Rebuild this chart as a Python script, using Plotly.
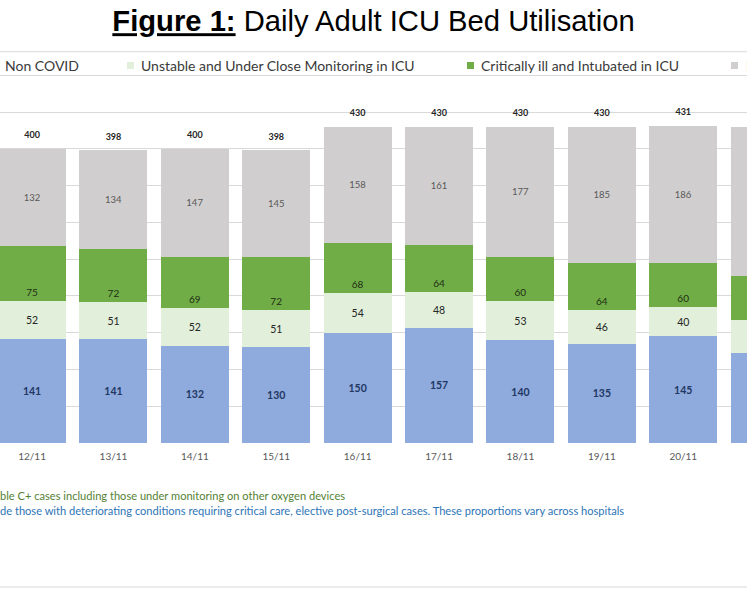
import plotly.graph_objects as go

# ---------------- data ----------------
dates = ["12/11", "13/11", "14/11", "15/11", "16/11", "17/11", "18/11", "19/11", "20/11", "21/11"]
non_covid = [141, 141, 132, 130, 150, 157, 140, 135, 145, 123]
unstable = [52, 51, 52, 51, 54, 48, 53, 46, 40, 44]
critical = [75, 72, 69, 72, 68, 64, 60, 64, 60, 60]
empty_beds = [132, 134, 147, 145, 158, 161, 177, 185, 186, 203]
totals = [a + b + c + d for a, b, c, d in zip(non_covid, unstable, critical, empty_beds)]

series_names = [
    "Non COVID",
    "Unstable and Under Close Monitoring in ICU",
    "Critically ill and Intubated in ICU",
    "Empty Beds",
]
title_text = "<b><u>Figure 1:</u></b> Daily Adult ICU Bed Utilisation"
note1 = "ble C+ cases including those under monitoring on other oxygen devices"
note2 = ("de those with deteriorating conditions requiring critical care, elective post-surgical cases. "
         "These proportions vary across hospitals")

# ---------------- style ----------------
W, H = 747, 598
M_T, M_B = 52, 155
PLOT_H = H - M_T - M_B
col_blue = "#8faadc"
col_light = "#e2efda"
col_green = "#70ad47"
col_grey = "#d0cece"
grid = "#d9d9d9"
FONT = "Lato"


def px_x(p):
    return p / W


def px_y(p):
    return (H - M_B - p) / PLOT_H


fig = go.Figure()

seg_specs = [
    (non_covid, series_names[0], col_blue, "middle", dict(family=FONT, size=10.5, color="#1f3864", weight="bold")),
    (unstable, series_names[1], col_light, "middle", dict(family=FONT, size=10.5, color="#262626")),
    (critical, series_names[2], col_green, "start", dict(family=FONT, size=10, color="#1e2d14")),
    (empty_beds, series_names[3], col_grey, "middle", dict(family=FONT, size=9.5, color="#595959")),
]
for vals, name, col, anchor, tf in seg_specs:
    fig.add_trace(go.Bar(
        x=dates, y=vals, name=name,
        marker=dict(color=col, line=dict(width=0)),
        text=vals, texttemplate="%{text}",
        textposition="inside", insidetextanchor=anchor,
        textangle=0, constraintext="none",
        insidetextfont=tf, cliponaxis=True,
        showlegend=False, hoverinfo="skip",
    ))

fig.add_trace(go.Scatter(
    x=dates, y=totals, mode="markers+text",
    text=totals, textposition="top center",
    marker=dict(size=12, opacity=0),
    textfont=dict(family=FONT, size=9, color="#262626", weight="bold"),
    cliponaxis=True, showlegend=False, hoverinfo="skip",
))

# ---------------- legend (cropped band, drawn as text + swatches) ----------------
legend_text_x = [3, 139, 479, 744]
legend_sw_x = [-10, 127, 467, 731]
legend_cols = [col_blue, col_light, col_green, col_grey]
annotations = []
shapes = []
for tx, sx, col, name in zip(legend_text_x, legend_sw_x, legend_cols, series_names):
    annotations.append(dict(
        text=name, x=px_x(tx), y=px_y(65), xref="paper", yref="paper",
        xanchor="left", yanchor="middle", showarrow=False,
        font=dict(family=FONT, size=14, color="#3a3a3a"),
    ))
    shapes.append(dict(
        type="rect", xref="paper", yref="paper",
        x0=px_x(sx), x1=px_x(sx + 7), y0=px_y(69), y1=px_y(62),
        fillcolor=col, line=dict(width=0), layer="above",
    ))

# band lines
shapes.append(dict(type="line", xref="paper", yref="paper", x0=0, x1=1,
                   y0=px_y(51.7), y1=px_y(51.7), line=dict(color=grid, width=1)))
shapes.append(dict(type="line", xref="paper", yref="paper", x0=0, x1=1,
                   y0=px_y(587), y1=px_y(587), line=dict(color=grid, width=1)))

# footnotes
annotations.append(dict(
    text=note1, x=0, y=px_y(495), xref="paper", yref="paper",
    xanchor="left", yanchor="middle", showarrow=False, xshift=-2,
    font=dict(family=FONT, size=11.1, color="#548235"),
))
annotations.append(dict(
    text=note2, x=0, y=px_y(510), xref="paper", yref="paper",
    xanchor="left", yanchor="middle", showarrow=False, xshift=-2,
    font=dict(family=FONT, size=11.1, color="#2e75b6"),
))

fig.update_layout(
    width=W, height=H,
    margin=dict(l=0, r=0, t=M_T, b=M_B, pad=0, autoexpand=False),
    barmode="stack", bargap=0.165,
    paper_bgcolor="white", plot_bgcolor="white",
    title=dict(text=title_text, x=0.5, xanchor="center", y=1 - 21 / H, yanchor="middle",
               font=dict(family="Liberation Sans", size=29.2, color="black")),
    annotations=annotations, shapes=shapes,
    showlegend=False,
)
fig.update_xaxes(
    type="category", categoryorder="array", categoryarray=dates,
    range=[-0.394, 8.783], showgrid=False, zeroline=False, showline=False,
    ticks="", ticklabelstandoff=6,
    tickfont=dict(family=FONT, size=10, color="#595959"),
)
fig.update_yaxes(
    range=[0, PLOT_H / 0.7355], dtick=50, tick0=0,
    showgrid=True, gridcolor=grid, gridwidth=1,
    zeroline=False, showline=False, showticklabels=False, ticks="",
)

fig.write_html(
    "out.html",
    config={"displayModeBar": False},
    post_script="document.body.style.margin='0';document.body.style.overflow='hidden';",
)
